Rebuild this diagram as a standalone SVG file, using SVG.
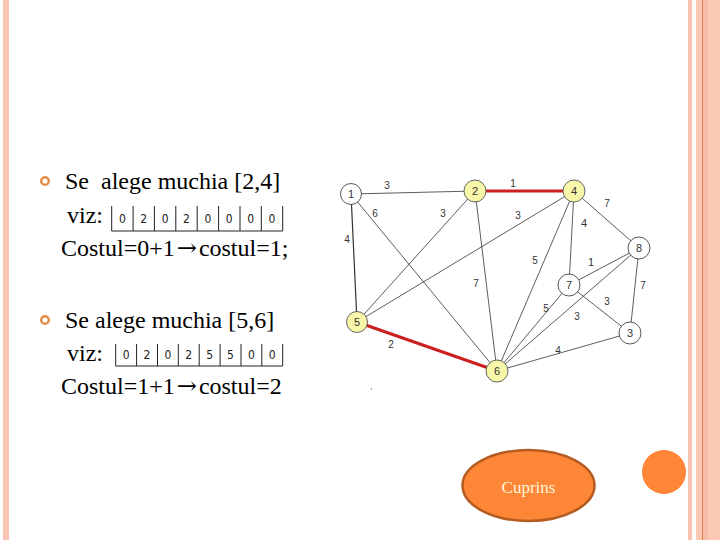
<svg xmlns="http://www.w3.org/2000/svg" width="720" height="540" viewBox="0 0 720 540">
<style>
.txt{font-family:"Liberation Serif","Times New Roman",serif;font-size:24px;fill:#000}
.arr{font-family:"DejaVu Serif","Liberation Serif",serif}
.cell{font-family:"DejaVu Sans Condensed","Liberation Sans",sans-serif;font-size:12px;fill:#222;text-anchor:middle}
.tb{stroke:#222;stroke-width:1;fill:none}
.e{stroke:#333;stroke-width:0.8;fill:none}
.er{stroke:#cc2020;stroke-width:3;fill:none}
.el{font-family:"Liberation Sans",Arial,sans-serif;font-size:10px;fill:#333;text-anchor:middle}
.nw{fill:#fff;stroke:#444;stroke-width:0.9}
.ny{fill:#f8f6a8;stroke:#555;stroke-width:0.9}
.nl{font-family:"Liberation Sans",Arial,sans-serif;font-size:11px;fill:#333;text-anchor:middle}
.bul{fill:none;stroke:#e38d48;stroke-width:2.5}
.cup{font-family:"Liberation Serif","Times New Roman",serif;font-size:17px;fill:#fff4d8;text-anchor:middle}
</style>
<rect width="720" height="540" fill="#fff"/>
<!-- borders -->
<rect x="3" y="0" width="6" height="540" fill="#f9c6b3"/>
<rect x="688" y="0" width="4" height="540" fill="#f8c4b0"/>
<rect x="696" y="0" width="24" height="540" fill="#fcc9b5"/>
<rect x="702.5" y="0" width="5.5" height="540" fill="#f7bda6"/>
<rect x="702" y="0" width="1" height="540" fill="#e28450"/>

<!-- text block 1 -->
<g id="bullet1">
<circle cx="45" cy="181" r="3.8" class="bul"/>
<text x="65" y="189" class="txt" xml:space="preserve">Se  alege muchia [2,4]</text>
<text x="67" y="223" class="txt">viz:</text>
<g id="viz1">
<path class="tb" d="M111.7 206V231H282.7V206M133.1 206V231M154.4 206V231M175.8 206V231M197.2 206V231M218.6 206V231M240 206V231M261.3 206V231"/>
<text class="cell" y="223"><tspan x="122.4">0</tspan><tspan x="143.8">2</tspan><tspan x="165.1">0</tspan><tspan x="186.5">2</tspan><tspan x="207.9">0</tspan><tspan x="229.3">0</tspan><tspan x="250.6">0</tspan><tspan x="272">0</tspan></text>
</g>
<text x="61" y="256" class="txt">Costul=0+1<tspan class="arr" dx="2">→</tspan><tspan dx="2">costul=1;</tspan></text>
</g>

<!-- text block 2 -->
<g id="bullet2">
<circle cx="45" cy="320" r="3.8" class="bul"/>
<text x="65" y="328" class="txt">Se alege muchia [5,6]</text>
<text x="67" y="361" class="txt">viz:</text>
<g id="viz2">
<path class="tb" d="M115.7 344V366H282.7V344M136.6 344V366M157.5 344V366M178.3 344V366M199.2 344V366M220.1 344V366M241 344V366M261.8 344V366"/>
<text class="cell" y="359"><tspan x="126.1">0</tspan><tspan x="147">2</tspan><tspan x="167.9">0</tspan><tspan x="188.8">2</tspan><tspan x="209.7">5</tspan><tspan x="230.5">5</tspan><tspan x="251.4">0</tspan><tspan x="272.3">0</tspan></text>
</g>
<text x="61" y="394" class="txt">Costul=1+1<tspan class="arr" dx="2">→</tspan><tspan dx="2">costul=2</tspan></text>
</g>

<!-- connectors -->
<g id="edges">
<line class="e" x1="351" y1="194" x2="475" y2="191"/>
<line class="e" x1="351" y1="194" x2="357" y2="322" style="stroke-width:1.2"/>
<line class="e" x1="351" y1="194" x2="497" y2="371"/>
<line class="e" x1="475" y1="191" x2="357" y2="322"/>
<line class="e" x1="475" y1="191" x2="497" y2="371"/>
<line class="e" x1="574" y1="191" x2="357" y2="322"/>
<line class="e" x1="574" y1="191" x2="497" y2="371"/>
<line class="e" x1="574" y1="191" x2="569" y2="285"/>
<line class="e" x1="574" y1="191" x2="639" y2="248"/>
<line class="e" x1="639" y1="248" x2="569" y2="285"/>
<line class="e" x1="639" y1="248" x2="497" y2="371"/>
<line class="e" x1="639" y1="248" x2="630" y2="333"/>
<line class="e" x1="569" y1="285" x2="497" y2="371"/>
<line class="e" x1="569" y1="285" x2="630" y2="333"/>
<line class="e" x1="630" y1="333" x2="497" y2="371"/>
<line class="er" x1="475" y1="191" x2="574" y2="191"/>
<line class="er" x1="357" y1="322" x2="497" y2="371"/>
<g>
<text class="el" x="387" y="189">3</text>
<text class="el" x="375" y="217">6</text>
<text class="el" x="443" y="217">3</text>
<text class="el" x="518" y="219">3</text>
<text class="el" x="347" y="243">4</text>
<text class="el" x="513" y="187">1</text>
<text class="el" x="607" y="207">7</text>
<text class="el" x="584" y="227" style="font-size:11px">4</text>
<text class="el" x="535" y="264">5</text>
<text class="el" x="591" y="266" style="font-size:11px">1</text>
<text class="el" x="476" y="287">7</text>
<text class="el" x="643" y="289">7</text>
<text class="el" x="607" y="305">3</text>
<text class="el" x="546" y="312">5</text>
<text class="el" x="577" y="320">3</text>
<text class="el" x="391" y="348">2</text>
<text class="el" x="558" y="354">4</text>
</g>
</g>

<!-- nodes -->
<g id="n1"><circle cx="351" cy="194" r="10.5" class="nw"/><text class="nl" x="351" y="198">1</text></g>
<g id="n2"><circle cx="475" cy="191" r="11" class="ny"/><text class="nl" x="475" y="195">2</text></g>
<g id="n4"><circle cx="574" cy="191" r="11" class="ny"/><text class="nl" x="574" y="195">4</text></g>
<g id="n8"><circle cx="639" cy="248" r="11" class="nw"/><text class="nl" x="639" y="252">8</text></g>
<g id="n7"><circle cx="569" cy="285" r="11" class="nw"/><text class="nl" x="569" y="289">7</text></g>
<g id="n5"><circle cx="357" cy="322" r="10.5" class="ny"/><text class="nl" x="357" y="326">5</text></g>
<g id="n3"><circle cx="630" cy="333" r="11" class="nw"/><text class="nl" x="630" y="337">3</text></g>
<g id="n6"><circle cx="497" cy="371" r="11" class="ny"/><text class="nl" x="497" y="375">6</text></g>
<circle cx="371.5" cy="389" r="0.7" fill="#777"/>

<!-- Cuprins button -->
<g id="cuprins">
<ellipse cx="528.5" cy="485.5" rx="66" ry="35.5" fill="#fd8637" stroke="#b45c22" stroke-width="2.5"/>
<text x="528.5" y="493" class="cup">Cuprins</text>
</g>
<circle id="dot" cx="664" cy="472" r="22" fill="#fd8637"/>
</svg>
